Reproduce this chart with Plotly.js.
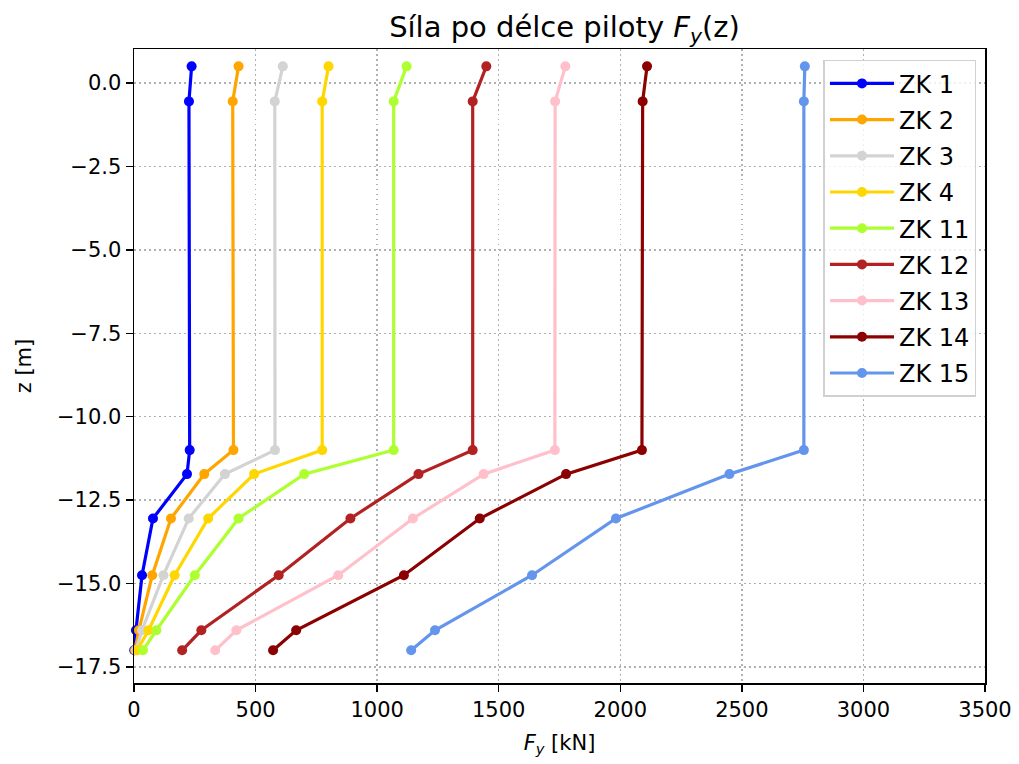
<!DOCTYPE html>
<html>
<head>
<meta charset="utf-8">
<script src="https://cdn.plot.ly/plotly-3.0.1.min.js"></script>
<style>html,body{margin:0;padding:0;background:#fff;}#chart{width:1019px;height:764px;}</style>
</head>
<body>
<div id="chart"></div>
<script>
// depth levels z [m]
const zLevels = [0.5, -0.55, -11.0, -11.72, -13.05, -14.75, -16.4, -17.0];

// Fy [kN] per load case
const names = ["ZK 1","ZK 2","ZK 3","ZK 4","ZK 11","ZK 12","ZK 13","ZK 14","ZK 15"];
const zk1  = [237, 226, 229, 218, 78, 33, 8, 1];
const zk2  = [430, 406, 409, 289, 152, 75, 20, 4];
const zk3  = [612, 579, 580, 374, 225, 121, 33, 8];
const zk4  = [800, 774, 774, 494, 305, 167, 60, 13];
const zk11 = [1121, 1068, 1068, 700, 430, 250, 92, 37];
const zk12 = [1449, 1393, 1393, 1170, 890, 595, 277, 198];
const zk13 = [1774, 1732, 1731, 1438, 1147, 840, 421, 334];
const zk14 = [2110, 2092, 2089, 1777, 1422, 1110, 667, 572];
const zk15 = [2759, 2755, 2755, 2449, 1982, 1637, 1238, 1140];
const colors = ["#0000ff","#ffa500","#d3d3d3","#ffd700","#adff2f","#b22222","#ffc0cb","#8b0000","#6495ed"];

const series = [zk1, zk2, zk3, zk4, zk11, zk12, zk13, zk14, zk15];
const traces = series.map((s, i) => ({
  type: "scatter",
  mode: "lines+markers",
  x: s,
  y: zLevels,
  name: names[i],
  legendgroup: "g" + i,
  line: {color: colors[i], width: 3.2},
  marker: {color: colors[i], size: 10},
  cliponaxis: false
}));

const font = "DejaVu Sans, Verdana, sans-serif";
const layout = {
  width: 1019, height: 764,
  paper_bgcolor: "#ffffff", plot_bgcolor: "#ffffff",
  margin: {l: 134, r: 34, t: 49, b: 81},
  font: {family: font, size: 21, color: "#000"},
  title: {text: "Síla po délce piloty <i>F<sub>y</sub></i>(z)", font: {family: font, size: 29, color: "#000"},
          x: 0.554, xanchor: "center", y: 0.965, yanchor: "middle", yref: "container"},
  xaxis: {
    range: [0, 3500], tickvals: [0,500,1000,1500,2000,2500,3000,3500],
    ticks: "outside", ticklen: 7, tickwidth: 1.5, tickcolor: "#000",
    showline: true, linecolor: "#000", linewidth: 1.5, mirror: true,
    showgrid: true, gridcolor: "#b0b0b0", griddash: "1.5px,3.5px", gridwidth: 1.3,
    zeroline: false,
    tickfont: {family: font, size: 21},
    title: {text: "<i>F<sub>y</sub></i> [kN]", font: {family: font, size: 21}, standoff: 14}
  },
  yaxis: {
    range: [-17.98, 1.02], tickvals: [0,-2.5,-5,-7.5,-10,-12.5,-15,-17.5], tickformat: ".1f",
    ticks: "outside", ticklen: 7, tickwidth: 1.5, tickcolor: "#000",
    showline: true, linecolor: "#000", linewidth: 1.5, mirror: true,
    showgrid: true, gridcolor: "#b0b0b0", griddash: "1.5px,3.5px", gridwidth: 1.3,
    zeroline: false,
    tickfont: {family: font, size: 21},
    title: {text: "z [m]", font: {family: font, size: 21}, standoff: 19}
  },
  legend: {
    x: 0.99, xanchor: "right", y: 0.983, yanchor: "top",
    bgcolor: "rgba(255,255,255,0.8)", bordercolor: "#d0d0d0", borderwidth: 1.5,
    font: {family: font, size: 24, color: "#000"},
    itemwidth: 64,
    tracegroupgap: 2
  },
  showlegend: true
};

Plotly.newPlot("chart", traces, layout, {displayModeBar: false, staticPlot: true});
</script>
</body>
</html>
